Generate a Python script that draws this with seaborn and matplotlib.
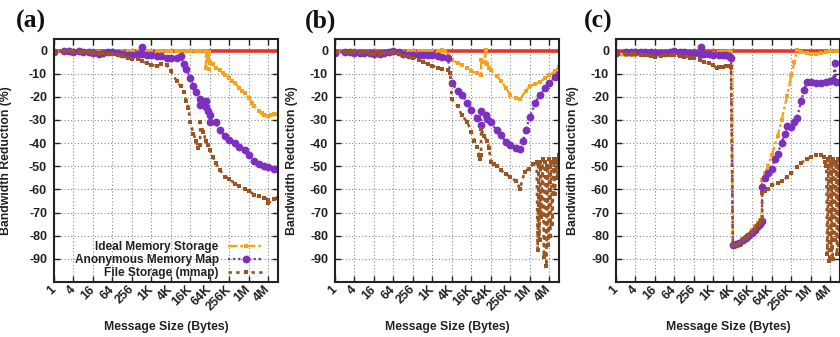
import matplotlib
matplotlib.use("Agg")
import matplotlib.pyplot as plt
import seaborn as sns
import pandas as pd

K = 1024
M = 1024 * 1024

# ---------------- (a) ----------------
a_ideal_size = [1, 2, 3, 4, 6, 8, 12, 16, 24, 32, 48, 64, 96, 128, 192, 256, 384, 512, 768,
                1*K, 1.5*K, 2*K, 3*K, 4*K, 6*K, 8*K, 12*K, 16*K, 24*K, 32*K, 44*K,
                48*K, 48*K, 52*K, 56*K, 60*K, 60*K, 64*K, 80*K, 96*K, 128*K, 160*K, 192*K,
                256*K, 320*K, 384*K, 512*K, 640*K, 768*K, 1*M, 1.25*M, 1.5*M, 2*M, 2.5*M,
                3*M, 4*M, 5*M, 6*M, 8*M]
a_ideal_red = [-0.5, -0.5, -0.3, -0.4, -0.5, -0.6, -0.8, -0.8, -0.7, -0.6, -0.5, -0.5, -0.4, -0.4,
               -0.3, -0.3, -0.3, -0.2, -0.2, -0.2, -0.1, -0.1, -0.1, 0.0, -0.1, 0.0, -0.1, 0.0,
               -0.2, 0.0, -0.2,
               -0.3, -7.5, -2.0, -4.0, -0.5, -8.0, -5.0, -6.0, -7.5, -8.5, -9.5, -10.5,
               -12.0, -13.0, -14.0, -16.0, -17.5, -18.5, -20.5, -22.5, -24.0, -26.0, -27.0,
               -27.8, -28.2, -28.0, -27.6, -27.3]

a_anon_size = [1, 2, 3, 4, 6, 8, 12, 16, 24, 32, 48, 64, 96, 128, 192, 256, 384, 448, 512, 512,
               768, 1*K, 1.5*K, 2*K, 3*K, 4*K, 6*K, 8*K, 10*K, 12*K, 16*K, 20*K, 24*K, 32*K,
               32*K, 40*K, 48*K, 48*K, 56*K, 64*K, 64*K, 96*K, 128*K, 192*K, 256*K, 384*K,
               512*K, 768*K, 1*M, 1.5*M, 2*M, 3*M, 4*M, 6*M, 8*M]
a_anon_red = [-0.5, -0.3, -0.2, -0.5, -0.3, -0.5, -0.8, -1.2, -1.3, -1.0, -0.8, -0.8, -1.0, -1.5,
              -1.7, -1.8, -1.5, -1.6, 1.5, -1.5,
              -1.8, -1.8, -2.2, -2.5, -3.0, -3.2, -3.0, -2.5, -6.0, -8.0, -12.0, -15.5, -18.0,
              -21.0, -23.5, -23.0, -22.0, -24.5, -26.0, -28.0, -31.0, -31.0, -34.5, -37.0,
              -38.5, -40.0, -41.5, -43.0, -45.0, -47.5, -49.0, -50.0, -50.5, -51.0, -51.2]

a_file_size = [1, 2, 3, 4, 6, 8, 12, 16, 24, 32, 48, 64, 96, 128, 192, 256, 384, 512, 768,
               1*K, 1.5*K, 2*K, 3*K, 4*K, 6*K, 8*K, 10*K, 12*K, 14*K, 16*K, 20*K, 24*K, 28*K,
               32*K, 32*K, 40*K, 48*K, 56*K, 64*K, 80*K, 96*K, 128*K, 192*K, 256*K, 384*K,
               512*K, 768*K, 1*M, 1.5*M, 2*M, 3*M, 4*M, 4*M, 6*M, 8*M]
a_file_red = [-0.5, -0.4, -0.4, -0.6, -0.5, -0.5, -0.8, -1.2, -1.5, -1.2, -1.3, -1.5, -2.0, -2.5,
              -3.0, -3.5, -3.5, -4.5, -5.5,
              -6.3, -6.5, -6.0, -6.2, -9.0, -13.0, -15.5, -18.0, -22.0, -25.0, -31.0, -36.0,
              -39.0, -42.0, -41.0, -31.0, -35.0, -39.0, -41.0, -43.0, -46.0, -48.5, -51.5,
              -54.5, -55.5, -57.5, -58.5, -60.0, -60.5, -62.5, -63.0, -63.5, -64.5, -66.0,
              -64.0, -63.5]

# ---------------- (b) ----------------
b_ideal_size = [1, 2, 3, 4, 6, 8, 12, 16, 24, 32, 48, 64, 96, 128, 192, 256, 384, 512, 768,
                1*K, 1.5*K, 2*K, 2*K, 2.5*K, 3*K, 3.5*K, 4*K, 6*K, 8*K, 12*K, 16*K, 24*K,
                32*K, 32*K, 40*K, 44*K, 44*K, 48*K, 56*K, 64*K, 96*K, 128*K, 192*K, 256*K,
                384*K, 512*K, 768*K, 1*M, 1.5*M, 2*M, 3*M, 4*M, 6*M, 8*M]
b_ideal_red = [-0.8, -0.5, -0.5, -0.6, -0.8, -0.7, -0.8, -1.0, -1.0, -0.8, -0.5, -0.3, -0.5,
               -0.5, -0.4, -0.3, -0.3, -0.2, -0.2,
               -0.3, -0.2, 0.2, -0.4, -0.3, -1.5, -3.0, -4.0, -5.3, -6.2, -7.7, -9.0, -9.8,
               -10.5, -4.0, -5.0, 0.3, -5.5, -6.0, -7.5, -8.5, -11.0, -13.0, -16.3, -19.3,
               -20.7, -21.0, -17.5, -15.3, -14.5, -13.5, -12.0, -10.6, -9.0, -7.0]

b_anon_size = [1, 2, 3, 4, 6, 8, 12, 16, 24, 32, 48, 64, 96, 128, 192, 256, 384, 512, 768,
               1*K, 1.5*K, 2*K, 3*K, 4*K, 6*K, 8*K, 12*K, 16*K, 24*K, 32*K, 32*K, 44*K, 48*K,
               64*K, 96*K, 128*K, 192*K, 256*K, 384*K, 512*K, 640*K, 768*K, 1*M, 1.5*M, 2*M,
               3*M, 4*M, 6*M, 8*M]
b_anon_red = [-0.9, -0.7, -0.8, -0.9, -1.0, -0.9, -1.2, -1.4, -1.4, -1.2, -0.8, -0.4, -0.5,
              -1.6, -1.9, -1.9, -2.0, -1.8, -1.7,
              -1.9, -2.3, -2.6, -3.3, -14.0, -17.5, -19.0, -22.5, -25.5, -29.0, -32.0, -26.0,
              -28.0, -29.5, -31.0, -34.5, -36.6, -39.5, -41.0, -42.0, -42.4, -39.0, -34.5,
              -28.5, -22.5, -19.3, -16.3, -14.0, -11.5, -10.0]

b_file_size = [1, 2, 3, 4, 6, 8, 12, 16, 24, 32, 48, 64, 96, 128, 192, 256, 384, 512, 768,
               1*K, 1.5*K, 2*K, 3*K, 3.5*K, 4*K, 6*K, 8*K, 12*K, 16*K, 20*K, 24*K, 28*K, 30*K,
               32*K, 32*K, 40*K, 48*K, 56*K, 64*K, 80*K, 96*K, 128*K, 192*K, 256*K, 384*K,
               512*K, 704*K, 960*K, 1.3*M, 1.625*M, 1.75*M, 1.875*M, 2*M, 2.125*M, 2.25*M,
               2.5*M, 2.75*M, 3*M, 3.25*M, 3.5*M, 3.75*M, 4*M, 4.25*M, 4.5*M, 5*M, 5.5*M,
               6*M, 6.5*M, 7*M, 7.5*M, 8*M]
b_file_red = [-0.8, -0.6, -0.7, -0.8, -0.9, -0.8, -1.0, -1.3, -1.4, -1.2, -1.0, -0.8, -1.5,
              -2.2, -2.8, -3.3, -4.0, -4.8, -5.8,
              -6.5, -7.5, -8.0, -8.3, -9.5, -21.0, -24.0, -27.8, -31.0, -35.0, -39.0, -41.5,
              -45.0, -47.0, -45.0, -34.0, -37.0, -39.0, -42.0, -48.0, -49.0, -50.0, -51.6,
              -53.5, -54.5, -56.5, -59.7, -52.5, -51.0, -48.8, -48.0, -86.0, -50.0, -82.0,
              -48.0, -72.0, -47.0, -89.0, -48.0, -93.0, -50.0, -84.0, -47.0, -80.0, -48.0,
              -75.0, -47.0, -62.0, -48.0, -55.0, -47.0, -45.0]

# ---------------- (c) ----------------
c_ideal_size = [1, 2, 3, 4, 6, 8, 12, 16, 24, 32, 48, 64, 96, 128, 192, 256, 384, 512, 768,
                1*K, 1.5*K, 2*K, 2.5*K, 3*K, 3.5*K, 4*K, 5*K, 6*K, 8*K, 10*K, 12*K, 16*K,
                20*K, 24*K, 28*K, 32*K, 32*K, 40*K, 48*K, 64*K, 96*K, 128*K, 192*K, 256*K,
                320*K, 384*K, 512*K, 768*K, 1*M, 1.5*M, 2*M, 3*M, 4*M, 6*M, 8*M]
c_ideal_red = [-1.9, -2.0, -1.9, -1.8, -1.8, -1.7, -1.9, -2.0, -2.0, -1.8, -1.6, -1.4, -1.3,
               -1.2, -1.1, -1.0, -1.0, -0.9, -0.9,
               -0.9, -0.7, -0.6, -0.5, -0.4, -0.5, -84.0, -83.8, -83.0, -81.5, -80.5, -79.5,
               -77.5, -76.0, -74.5, -73.0, -71.8, -56.0, -53.0, -50.0, -45.0, -37.0, -30.0,
               -19.5, -10.5, -5.0, 0.2, -0.5, -1.2, -1.5, -1.3, -1.0, -0.6, -0.3, -0.1, 0.0]

c_anon_size = [1, 2, 3, 4, 6, 8, 12, 16, 24, 32, 48, 64, 96, 128, 192, 256, 384, 416, 448, 512,
               768, 1*K, 1.5*K, 2*K, 2.5*K, 3*K, 3.5*K, 4*K, 5*K, 6*K, 8*K, 10*K, 12*K, 16*K,
               20*K, 24*K, 28*K, 32*K, 32*K, 40*K, 48*K, 64*K, 80*K, 96*K, 128*K, 160*K, 192*K,
               256*K, 320*K, 384*K, 512*K, 640*K, 768*K, 1*M, 1.5*M, 2*M, 3*M, 4*M, 5*M,
               5.5*M, 6*M, 8*M]
c_anon_red = [-0.9, -0.6, -0.5, -0.5, -0.5, -0.6, -0.8, -1.0, -1.2, -1.0, -0.6, -0.4, -0.5,
              -0.8, -1.0, -1.2, -1.3, 1.7, -1.3, -1.5,
              -1.6, -1.7, -1.9, -1.9, -2.0, -2.5, -3.0, -84.0, -83.5, -83.0, -82.0, -81.0,
              -80.0, -79.0, -77.5, -76.0, -75.0, -73.5, -59.0, -55.0, -53.0, -51.0, -47.0,
              -44.5, -40.0, -36.0, -32.5, -33.0, -31.0, -29.0, -22.0, -17.0, -13.5, -13.5,
              -14.2, -14.0, -13.5, -13.0, -12.7, -5.5, -13.5, -13.5]

c_file_size = [1, 2, 3, 4, 6, 8, 12, 16, 24, 32, 48, 64, 96, 128, 192, 256, 384, 512, 768,
               1*K, 1.25*K, 1.5*K, 2*K, 2.5*K, 3*K, 3.5*K, 4*K, 5*K, 6*K, 8*K, 10*K, 12*K,
               16*K, 20*K, 24*K, 28*K, 32*K, 32*K, 40*K, 48*K, 64*K, 96*K, 128*K, 192*K,
               256*K, 384*K, 512*K, 768*K, 1*M, 1.5*M, 2*M, 2.5*M, 2.75*M, 3*M, 3.25*M,
               3.5*M, 3.75*M, 4*M, 4.25*M, 4.5*M, 4.75*M, 5*M, 5.5*M, 6*M, 6.5*M, 7*M,
               7.5*M, 8*M]
c_file_red = [-1.2, -1.3, -1.5, -1.5, -1.8, -2.0, -2.5, -2.6, -2.4, -2.1, -1.9, -1.9, -2.3,
              -2.6, -3.0, -3.3, -4.2, -4.8, -5.5,
              -6.2, -7.6, -7.2, -6.9, -6.5, -6.8, -7.0, -84.0, -83.8, -83.2, -82.0, -81.0,
              -80.0, -78.5, -77.0, -75.5, -74.5, -73.0, -61.7, -60.5, -60.0, -58.0, -57.3,
              -56.5, -54.6, -53.0, -50.5, -48.5, -47.0, -46.0, -45.2, -45.2, -45.8, -48.0,
              -50.0, -88.0, -47.0, -91.0, -46.0, -86.0, -48.0, -90.0, -47.0, -82.0, -48.0,
              -88.0, -47.0, -84.0, -50.0]

panels = [
    ("(a)", (a_ideal_size, a_ideal_red), (a_anon_size, a_anon_red), (a_file_size, a_file_red)),
    ("(b)", (b_ideal_size, b_ideal_red), (b_anon_size, b_anon_red), (b_file_size, b_file_red)),
    ("(c)", (c_ideal_size, c_ideal_red), (c_anon_size, c_anon_red), (c_file_size, c_file_red)),
]

series_names = ["Ideal Memory Storage", "Anonymous Memory Map", "File Storage (mmap)"]
tick_sizes = [1, 4, 16, 64, 256, 1*K, 4*K, 16*K, 64*K, 256*K, 1*M, 4*M]
tick_labels = ["1", "4", "16", "64", "256", "1K", "4K", "16K", "64K", "256K", "1M", "4M"]
y_ticks = [0, -10, -20, -30, -40, -50, -60, -70, -80, -90]

ORANGE = "#f5a31d"
PURPLE = "#7d30bf"
BROWN = "#9a5522"
RED = "#e3352b"
INK = "#222222"

styles = [
    dict(color=ORANGE, linestyle=(0, (4, 1.2, 1.2, 1.2)), linewidth=1.7,
         marker="s", markersize=2.4, markeredgewidth=0),
    dict(color=PURPLE, linestyle=(0, (1, 1.3)), linewidth=1.6,
         marker="o", markersize=5.6, markeredgewidth=0),
    dict(color=BROWN, linestyle=(0, (1.3, 1.6)), linewidth=1.9,
         marker="s", markersize=2.4, markeredgewidth=0),
]

sns.set_theme(style="ticks")
plt.rcParams["font.family"] = ["Liberation Sans", "DejaVu Sans"]
plt.rcParams["font.weight"] = "bold"
plt.rcParams["text.color"] = INK

W, H = 840, 337
fig = plt.figure(figsize=(W / 100, H / 100), dpi=100)

ax_left = [54, 335, 616]
title_x = [16, 305, 584]
ylabel_x = [12, 298, 579]
ax_w, ax_top, ax_bottom = 224, 39, 282
TICK_FS = 9.0
LABEL_FS = 8.8
LEGEND_FS = 8.6

for i, (title, *series) in enumerate(panels):
    ax = fig.add_axes([ax_left[i] / W, (H - ax_bottom) / H, ax_w / W, (ax_bottom - ax_top) / H])
    ax.axhline(0, color=RED, linewidth=2.6, zorder=1.5)
    for name, (sizes, red), st in zip(series_names, series, styles):
        df = pd.DataFrame({"size": sizes, "reduction": red})
        sns.lineplot(data=df, x="size", y="reduction", ax=ax, sort=False, estimator=None,
                     label=name, zorder=2, **st)
    ax.set_xscale("log", base=2)
    ax.set_xlim(1, 8 * M)
    ax.set_ylim(-100, 5)
    ax.set_xticks(tick_sizes)
    ax.set_xticklabels(tick_labels)
    ax.xaxis.set_minor_locator(matplotlib.ticker.NullLocator())
    ax.set_yticks(y_ticks)
    ax.set_yticklabels([str(v) for v in y_ticks])
    ax.grid(True, linestyle=(0, (1, 2)), color="#8a8a8a", linewidth=0.8)
    ax.tick_params(direction="in", top=True, right=True, length=4, width=1.0,
                   colors=INK, labelsize=TICK_FS, pad=5)
    ax.tick_params(axis="x", pad=4)
    for lab in ax.get_xticklabels():
        lab.set_rotation(45)
        lab.set_ha("right")
        lab.set_va("center")
        lab.set_rotation_mode("anchor")
        lab.set_fontweight("bold")
    for lab in ax.get_yticklabels():
        lab.set_fontweight("bold")
    for sp in ax.spines.values():
        sp.set_linewidth(1.5)
        sp.set_color(INK)
    ax.set_xlabel("Message Size (Bytes)", fontsize=LABEL_FS, fontweight="bold", color=INK)
    ax.xaxis.set_label_coords(0.503, -0.16)
    ax.set_ylabel("Bandwidth Reduction (%)", fontsize=LABEL_FS, fontweight="bold", color=INK)
    ax.yaxis.set_label_coords((ylabel_x[i] - ax_left[i]) / ax_w, 0.5)
    fig.text(title_x[i] / W, 1 - 21 / H, title, fontsize=18.5, fontweight="bold",
             family="Liberation Serif", ha="left", va="center", color="#111111")
    if i == 0:
        ax.legend(loc="lower right", bbox_to_anchor=(0.935, 0.012), frameon=False,
                  markerfirst=False, numpoints=1, handlelength=3.0, handletextpad=0.75,
                  labelspacing=0.08, borderpad=0, borderaxespad=0,
                  prop={"weight": "bold", "size": LEGEND_FS})
    else:
        leg = ax.get_legend()
        if leg is not None:
            leg.remove()

fig.savefig("out.png", dpi=100)
